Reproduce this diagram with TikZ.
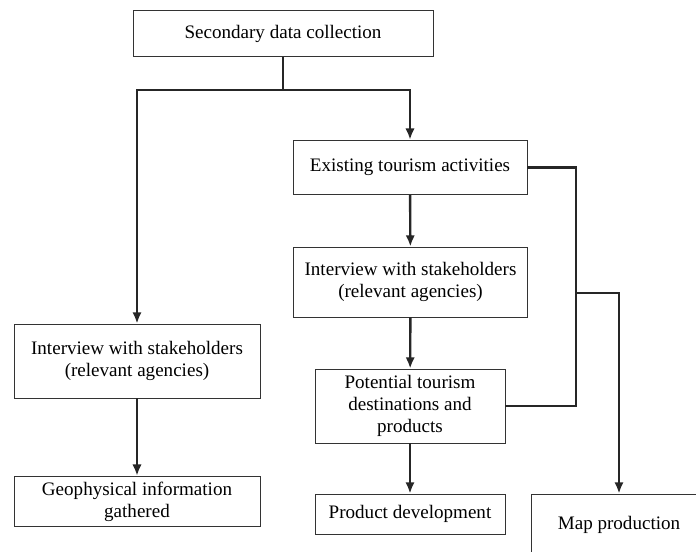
\documentclass[tikz,border=0pt]{standalone}
\usepackage{fontspec}
\setmainfont{Liberation Serif}
\usepackage{tikz}
\usetikzlibrary{arrows.meta,positioning}

\begin{document}
\begin{tikzpicture}[
  x=0.75pt, y=-0.75pt,
  font=\fontsize{14.3}{16.5}\selectfont, >={Latex[length=8.5pt,width=7pt]},
  box/.style={draw=black!80, line width=0.6pt, fill=white, align=center, inner sep=2pt},
  flow/.style={line width=1.8pt, draw=black!85},
]
\useasboundingbox (0,0) rectangle (696,551);
\node[box, minimum width=225pt, minimum height=35pt] (sdc) at (283,33.5) {Secondary data collection};
\node[box, minimum width=175.5pt, minimum height=41pt] (eta) at (410,167.5) {Existing tourism activities};
\node[box, minimum width=176pt, minimum height=52.5pt] (int2) at (410.5,282) {Interview with stakeholders\\(relevant agencies)};
\node[box, minimum width=142.5pt, minimum height=55.5pt] (pot) at (410,406) {Potential tourism\\destinations and\\products};
\node[box, minimum width=142.5pt, minimum height=30pt] (prod) at (410,514) {Product development};
\node[box, minimum width=184.5pt, minimum height=55.5pt] (int1) at (137,361) {Interview with stakeholders\\(relevant agencies)};
\node[box, minimum width=184.5pt, minimum height=38pt] (geo) at (137,501.5) {Geophysical information\\gathered};
\node[box, minimum width=132pt, minimum height=46.5pt] (map) at (619,525) {Map production};
\coordinate (split) at (283,90);
\coordinate (bus) at (576,293);
% left and middle branches
\draw[flow] (sdc) -- (split);
\draw[flow,->] (split) -| (int1);
\draw[flow,->] (split) -| (eta);
\draw[flow,->] (int1) -- (geo);
\draw[flow,->] (eta) -- (int2);
\draw[flow,->] (int2) -- (pot);
\draw[flow,->] (pot) -- (prod);
% right side to map
\draw[flow] (eta.east) -| (bus);
\draw[flow] (pot.east) -| (bus);
\draw[flow,->] (bus) -| (map);
\end{tikzpicture}
\end{document}
